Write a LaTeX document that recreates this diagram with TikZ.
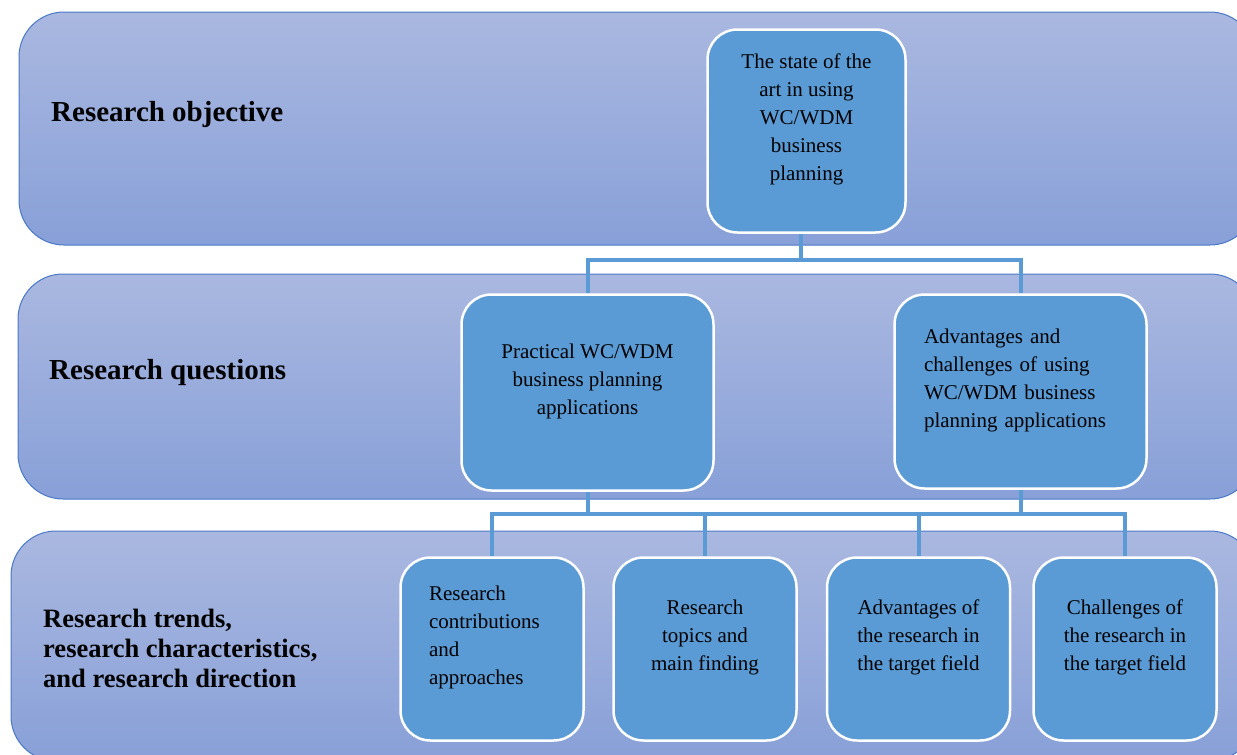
\documentclass[tikz,border=0pt]{standalone}
\usepackage{fontspec}
\setmainfont{Liberation Serif}
\usetikzlibrary{positioning}
\definecolor{bandtop}{RGB}{170,184,224}
\definecolor{bandbot}{RGB}{136,160,216}
\definecolor{bandline}{RGB}{74,120,200}
\definecolor{boxblue}{RGB}{91,155,213}

\begin{document}
\begin{tikzpicture}[x=1pt, y=-1pt,
  band/.style={draw=bandline, line width=1pt, rounded corners=45pt, top color=bandtop, bottom color=bandbot},
  level/.style={anchor=west, align=left, inner xsep=0pt, font=\bfseries\fontsize{29}{34}\selectfont},
  topic/.style={draw=white, line width=2.5pt, fill=boxblue, rounded corners=30pt, align=center,
    font=\fontsize{21}{28}\selectfont, execute at end node={\rule[-27pt]{0pt}{27pt}}},
  link/.style={draw=boxblue, line width=4pt}]
  \path[use as bounding box] (0,0) rectangle (1237,755);
  \clip (0,0) rectangle (1237,755);
  % the three levels
  \draw[band] (19,12) rectangle (1255,245);
  \draw[band] (18,274) rectangle (1255,499);
  \draw[band] (11,531) rectangle (1255,761);
  \node[level] (objective) at (51,115) {Research objective};
  \node[level] (questions) at (49,373) {Research questions};
  \node[level, font=\bfseries\fontsize{26.5}{30}\selectfont] (trends) at (43,648)
    {Research trends,\\research characteristics,\\and research direction};
  % boxes
  \node[topic, minimum width=198pt, minimum height=203pt] (state) at (806.5,131)
    {The state of the\\art in using\\WC/WDM\\business\\planning};
  \node[topic, minimum width=252pt, minimum height=196pt] (practical) at (587.5,392.5)
    {Practical WC/WDM\\business planning\\applications};
  \node[topic, align=left, text width=193pt, minimum width=252pt, minimum height=194pt] (merits) at (1020.5,391.5)
    {Advantages and\\challenges of using\\WC/WDM business\\planning applications};
  \node[topic, align=left, text width=126pt, minimum width=183pt, minimum height=183pt] (contrib) at (492,649)
    {Research\\contributions\\and\\approaches};
  \node[topic, minimum width=183pt, minimum height=183pt] (topics) at (705,649)
    {Research\\topics and\\main finding};
  \node[topic, minimum width=183pt, minimum height=183pt] (fieldadv) at (918.5,649)
    {Advantages of\\the research in\\the target field};
  \node[topic, minimum width=183pt, minimum height=183pt] (fieldchal) at (1125,649)
    {Challenges of\\the research in\\the target field};
  % connectors
  \draw[link] ([xshift=-6pt]state.south) -- ++(0,26) coordinate (upper) -| (practical.north);
  \draw[link] (upper) -| (merits.north);
  \draw[link] (practical.south) -- ++(0,22) coordinate (lower) -| (contrib.north);
  \draw[link] (lower) -| (topics.north);
  \draw[link] (lower) -| (fieldadv.north);
  \draw[link] (lower) -| (fieldchal.north);
  \draw[link] (merits.south) -- (merits.south |- lower);
\end{tikzpicture}
\end{document}
